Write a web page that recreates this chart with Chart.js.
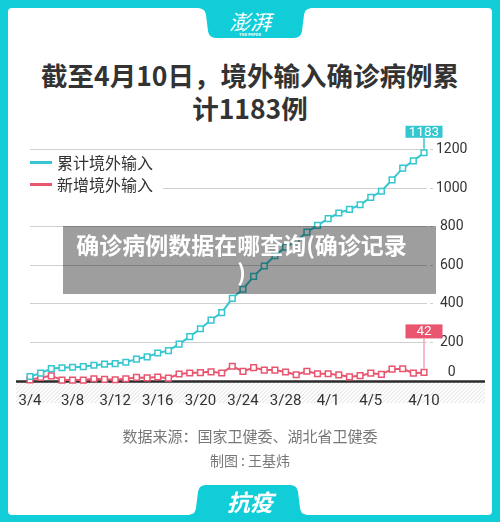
<!DOCTYPE html>
<html>
<head>
<meta charset="utf-8">
<script src="https://cdn.jsdelivr.net/npm/chart.js@4"></script>
<style>
  html, body { margin: 0; padding: 0; }
  body { width: 500px; height: 522px; overflow: hidden; }
  #wrap { position: relative; width: 500px; height: 522px; background: #10cdd8; font-family: "Noto Sans CJK SC", sans-serif; }
  #bg { position: absolute; left: 0; top: 0; }
  #title { position: absolute; left: 0; top: 58px; width: 500px; text-align: center; font-size: 26.5px; font-weight: 700; line-height: 33px; color: #333; }
  #chartBox { position: absolute; left: 0; top: 0; width: 500px; height: 522px; }
  #legend { position: absolute; left: 26px; top: 151px; width: 137px; height: 44px; background: #fff; }
  .lg { position: absolute; left: 4px; height: 20px; font-size: 16px; line-height: 20px; color: #333; }
  .lg i { display: inline-block; width: 22px; height: 3.5px; vertical-align: middle; margin-right: 5px; position: relative; top: -2px; }
  #source { position: absolute; left: 0; top: 424px; width: 500px; text-align: center; font-size: 15px; line-height: 24px; color: #777; }
  #mark { position: absolute; left: 63px; top: 226px; width: 373px; height: 68px; background: rgba(0,0,0,0.38); color: #fff; font-weight: 700; font-size: 23px; line-height: 27px; text-align: center; box-sizing: border-box; padding-top: 5px; padding-right: 16px; }
  .tabtxt { position: absolute; width: 500px; text-align: center; color: #fff; font-weight: 700; font-style: italic; }
</style>
</head>
<body>
<div id="wrap">
  <svg id="bg" width="500" height="522">
    <rect x="8" y="8" width="484" height="507" rx="4" fill="#fff"/>
    <path d="M196,8 C203,8 205,10 206,15 L208,31 Q209,38 216,38 L294,38 Q301,38 302,31 L304,15 C305,10 307,8 314,8 Z" fill="#10cdd8"/>
    <path d="M186,515 C193,515 195,513 196,508 L198,492 Q199,485 206,485 L290,485 Q297,485 298,492 L300,508 C301,513 303,515 310,515 Z" fill="#10cdd8"/>
  </svg>
  <div class="tabtxt" style="top:9px;font-size:21px;line-height:24px;font-weight:400;">澎湃</div>
  <div class="tabtxt" style="top:32px;font-size:4px;line-height:5px;font-style:normal;">THE PAPER</div>
  <div id="title">截至4月10日，境外输入确诊病例累<br>计1183例</div>
  <div id="chartBox"><canvas id="importChart" width="500" height="522"></canvas></div>
  <div id="legend">
    <div class="lg" style="top:1px;"><i style="background:#35c6cf"></i>累计境外输入</div>
    <div class="lg" style="top:23px;"><i style="background:#e9546f"></i>新增境外输入</div>
  </div>
  <div id="source">数据来源：国家卫健委、湖北省卫健委<br><span style="font-size:14px">制图 : 王基炜</span></div>
  <div class="tabtxt" style="top:487px;font-size:23px;line-height:28px;">抗疫</div>
  <div id="mark">确诊病例数据在哪查询(确诊记录<br>)</div>
</div>

<script>
// data
const dates = ['3/4','3/5','3/6','3/7','3/8','3/9','3/10','3/11','3/12','3/13','3/14','3/15','3/16','3/17','3/18','3/19','3/20','3/21','3/22','3/23','3/24','3/25','3/26','3/27','3/28','3/29','3/30','3/31','4/1','4/2','4/3','4/4','4/5','4/6','4/7','4/8','4/9','4/10'];
const cumulative = [21, 38, 62, 66, 69, 72, 79, 85, 88, 95, 111, 123, 143, 155, 189, 228, 269, 314, 353, 427, 474, 541, 595, 649, 693, 723, 771, 806, 841, 870, 889, 913, 951, 983, 1042, 1103, 1141, 1183];
const newCases = [3, 16, 24, 2, 2, 2, 9, 6, 4, 9, 16, 14, 18, 12, 34, 39, 41, 45, 39, 74, 47, 67, 54, 54, 44, 30, 48, 35, 35, 29, 19, 25, 38, 32, 59, 61, 38, 42];
const xTickLabels = ['3/4','3/8','3/12','3/16','3/20','3/24','3/28','4/1','4/5','4/10'];
const yTicks = [0, 200, 400, 600, 800, 1000, 1200];

const TEAL = '#35c6cf';
const RED = '#e9546f';
const NUM_FONT = "Roboto, 'Liberation Sans', sans-serif";

// hatch band + black baseline under the series
const axisDeco = {
    id: 'axisDeco',
    beforeDraw(chart) {
        const c = chart.ctx;
        const y0 = chart.scales.y.getPixelForValue(0) + 1;
        const x0 = 16, x1 = 485, h = 22;
        c.save();
        c.beginPath();
        c.rect(x0, y0, x1 - x0, h);
        c.clip();
        c.strokeStyle = '#dcdcdc';
        c.lineWidth = 1;
        for (let k = x0 - h; k < x1; k += 4) {
            c.beginPath();
            c.moveTo(k, y0 + h);
            c.lineTo(k + h, y0);
            c.stroke();
        }
        c.restore();
    },
    beforeDatasetsDraw(chart) {
        const c = chart.ctx;
        const y0 = chart.scales.y.getPixelForValue(0) + 1;
        c.save();
        c.strokeStyle = '#2b2b2b';
        c.lineWidth = 2.5;
        c.beginPath();
        c.moveTo(16, y0);
        c.lineTo(485, y0);
        c.stroke();
        c.restore();
    },
    // value tags over the last point
    afterDatasetsDraw(chart) {
        const c = chart.ctx;
        chart.data.datasets.forEach((ds, i) => {
            const pts = chart.getDatasetMeta(i).data;
            const p = pts[pts.length - 1];
            const val = ds.data[ds.data.length - 1];
            const bx = p.x - 18.5, by = p.y - ds.tagGap - ds.tagH;
            c.save();
            c.strokeStyle = ds.tagLine;
            c.lineWidth = 1.5;
            c.beginPath();
            c.moveTo(p.x, by + ds.tagH);
            c.lineTo(p.x, p.y - 4);
            c.stroke();
            c.fillStyle = ds.borderColor;
            c.fillRect(bx, by, 37, ds.tagH);
            c.fillStyle = '#fff';
            c.font = '13.5px ' + NUM_FONT;
            c.textAlign = 'center';
            c.textBaseline = 'middle';
            c.fillText(String(val), p.x, by + ds.tagH / 2 + 0.5);
            c.restore();
        });
    }
};

const chart = new Chart(document.getElementById('importChart'), {
    type: 'line',
    data: {
        labels: dates,
        datasets: [
            {
                label: '累计境外输入',
                data: cumulative,
                borderColor: TEAL,
                backgroundColor: '#fff',
                borderWidth: 2,
                pointStyle: 'rect',
                pointRadius: 4,
                pointBorderWidth: 1.5,
                pointBackgroundColor: '#fff',
                tension: 0,
                clip: false,
                tagGap: 15, tagH: 12, tagLine: TEAL
            },
            {
                label: '新增境外输入',
                data: newCases,
                borderColor: RED,
                backgroundColor: '#fff',
                borderWidth: 2,
                pointStyle: 'rect',
                pointRadius: 4,
                pointBorderWidth: 1.5,
                pointBackgroundColor: '#fff',
                tension: 0,
                clip: false,
                tagGap: 34, tagH: 14, tagLine: '#f2a5b4'
            }
        ]
    },
    options: {
        responsive: false,
        animation: false,
        events: [],
        layout: { padding: { left: 30, top: 149.5, right: 0, bottom: 0 } },
        plugins: { legend: { display: false }, tooltip: { enabled: false } },
        scales: {
            x: {
                grid: { display: false },
                border: { display: false },
                afterFit: (s) => { s.height = 141.5; },
                ticks: {
                    autoSkip: false,
                    maxRotation: 0,
                    padding: 4,
                    color: '#333',
                    font: { family: NUM_FONT, size: 15 },
                    callback: (v, i) => xTickLabels.includes(dates[i]) ? dates[i] : ''
                }
            },
            y: {
                position: 'right',
                min: 0,
                max: 1200,
                afterFit: (s) => { s.width = 76; },
                afterBuildTicks: (s) => { s.ticks = yTicks.map(v => ({ value: v })); },
                border: { display: false },
                grid: {
                    color: (ctx) => ctx.tick && ctx.tick.value === 0 ? 'rgba(0,0,0,0)' : '#cfcfcf',
                    lineWidth: 1,
                    drawTicks: true,
                    tickLength: 10,
                    tickColor: (ctx) => ctx.tick && ctx.tick.value === 0 ? 'rgba(0,0,0,0)' : '#cfcfcf',
                    borderDash: [3, 3],
                    tickBorderDash: [3, 3]
                },
                ticks: {
                    padding: 2,
                    crossAlign: 'center',
                    color: '#333',
                    font: { family: NUM_FONT, size: 14 },
                    callback: (v) => v === 0 ? ['0', ''] : String(v)
                }
            }
        }
    },
    plugins: [axisDeco]
});
</script>
</body>
</html>
